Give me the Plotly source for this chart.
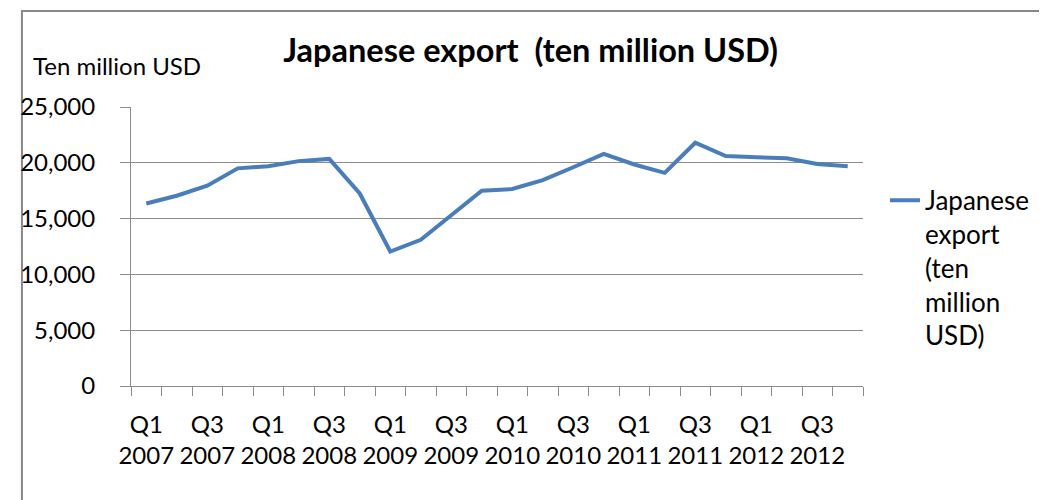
import plotly.graph_objects as go

quarters = ["Q1 2007", "Q2 2007", "Q3 2007", "Q4 2007",
            "Q1 2008", "Q2 2008", "Q3 2008", "Q4 2008",
            "Q1 2009", "Q2 2009", "Q3 2009", "Q4 2009",
            "Q1 2010", "Q2 2010", "Q3 2010", "Q4 2010",
            "Q1 2011", "Q2 2011", "Q3 2011", "Q4 2011",
            "Q1 2012", "Q2 2012", "Q3 2012", "Q4 2012"]
export_values = [16350, 17050, 17950, 19500,
                 19700, 20150, 20350, 17250,
                 12050, 13100, 15300, 17500,
                 17650, 18450, 19600, 20800,
                 19850, 19100, 21800, 20600,
                 20500, 20400, 19900, 19700]
y_ticks = [0, 5000, 10000, 15000, 20000, 25000]

FONT = "Lato"
GRAY = "#8c8c8c"

idx = list(range(len(quarters)))
label_idx = idx[::2]
label_text = [quarters[i].replace(" ", "<br>") for i in label_idx]

fig = go.Figure()
fig.add_trace(go.Scatter(
    x=idx, y=export_values, mode="lines",
    name="Japanese<br>export<br>(ten<br>million<br>USD)",
    line=dict(color="#4a7ebb", width=4),
))

fig.update_layout(
    width=1039, height=492,
    paper_bgcolor="white", plot_bgcolor="white",
    margin=dict(l=112, r=182, t=99, b=114),
    font=dict(family=FONT, size=22, color="#000000"),
    title=dict(text="<b>Japanese export\u00a0\u00a0(ten million USD)</b>",
               x=0.503, xanchor="center", y=0.913, yanchor="middle",
               font=dict(family=FONT, size=32.5, color="#000000")),
    showlegend=True,
    legend=dict(x=1.03, xanchor="left", y=0.75, yanchor="top",
                valign="top", font=dict(family=FONT, size=26),
                bgcolor="rgba(0,0,0,0)", tracegroupgap=0),
    xaxis=dict(range=[-0.5, len(quarters) - 0.5],
               tickmode="array", tickvals=label_idx, ticktext=label_text,
               ticks="", showgrid=False, zeroline=False,
               showline=True, linecolor=GRAY, linewidth=1,
               ticklabelstandoff=17,
               tickfont=dict(family=FONT, size=24),
               minor=dict(tickmode="array",
                          tickvals=[i - 0.5 for i in range(len(quarters) + 1)],
                          ticks="outside", ticklen=9, tickcolor=GRAY,
                          tickwidth=1, showgrid=False)),
    yaxis=dict(range=[0, 25000], tickmode="array", tickvals=y_ticks,
               tickformat=",", ticks="outside", ticklen=10, tickcolor=GRAY,
               showgrid=True, gridcolor=GRAY, gridwidth=1, zeroline=False,
               showline=True, linecolor=GRAY, linewidth=1,
               ticklabelstandoff=20,
               tickfont=dict(family=FONT, size=24)),
    annotations=[dict(text="Ten million USD", xref="paper", yref="paper",
                      x=-0.137, y=1.15, xanchor="left", yanchor="middle",
                      showarrow=False, font=dict(family=FONT, size=24))],
    shapes=[dict(type="rect", xref="paper", yref="paper",
                 x0=-0.149, x1=1.6, y0=-1.0, y1=1.344,
                 line=dict(color="#888888", width=2), layer="below")],
)

fig.write_html("out.html")
